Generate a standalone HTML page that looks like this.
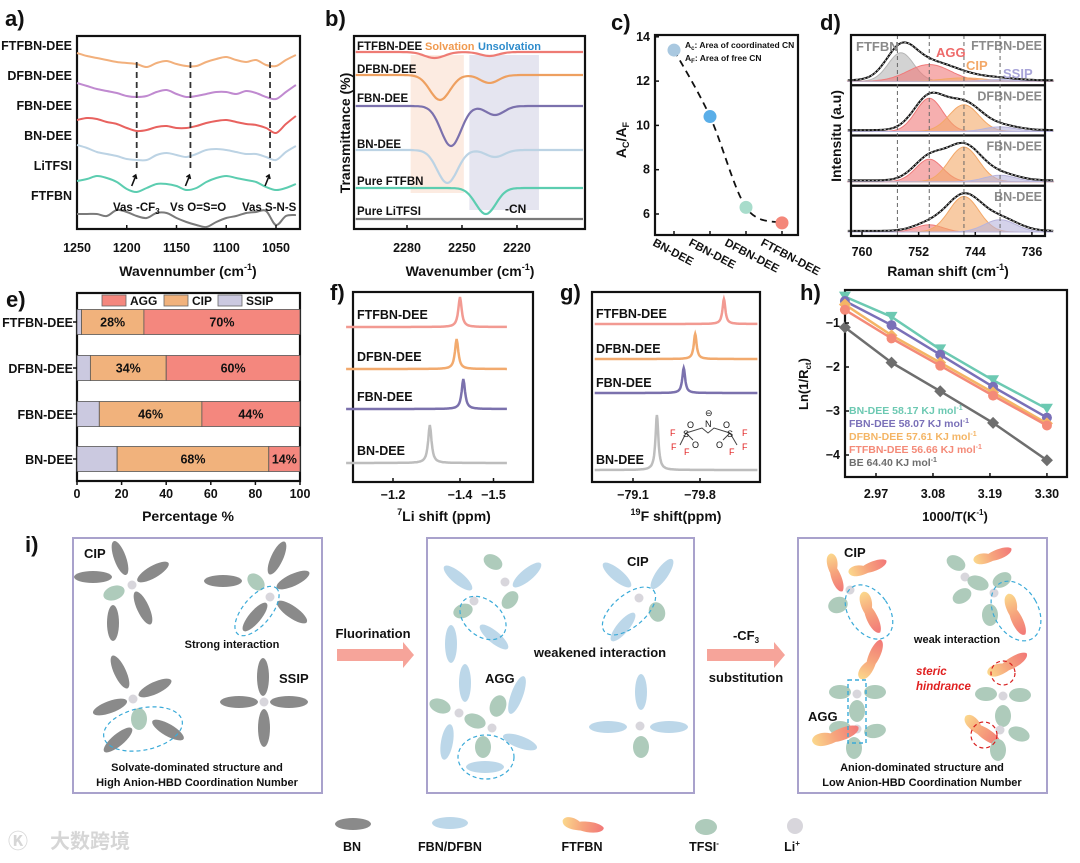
<!DOCTYPE html>
<html><head><meta charset="utf-8">
<style>
html,body{margin:0;padding:0;background:#fff;}
svg{display:block;font-family:"Liberation Sans","Noto Sans CJK SC",sans-serif;}
</style></head>
<body>
<svg id="fig" width="1080" height="863" viewBox="0 0 1080 863" xmlns="http://www.w3.org/2000/svg">
<defs>
<linearGradient id="ft" x1="0" y1="0" x2="1" y2="0"><stop offset="0" stop-color="#fbd88c"/><stop offset="0.5" stop-color="#f6a27c"/><stop offset="1" stop-color="#f27878"/></linearGradient>
</defs>
</svg>
<script>
// ---------- data ----------
const aWaven = [1250,1240,1230,1220,1210,1200,1190,1180,1170,1160,1150,1140,1130,1120,1110,1100,1090,1080,1070,1060,1050,1040,1030];
const aNames = ['FTFBN-DEE','DFBN-DEE','FBN-DEE','BN-DEE','LiTFSI','FTFBN'];
const aFtfbnDee = [176,173,171,169,167,166,165,162,166,168,165,163,163,167,170,172,169,167,169,164,163,169,174];
const aDfbnDee = [146,143,140,138,136,133,132,133,137,139,135,132,133,135,137,137,135,138,136,132,130,137,144];
const aFbnDee = [109,111,110,107,105,101,98,99,102,103,101,101,103,106,108,109,107,105,104,101,96,105,113];
const aBnDee = [84,81,77,75,73,70,69,69,74,76,74,72,75,79,80,79,77,75,75,72,69,77,83];
const aLitfsi = [48,50,53,51,47,40,37,41,45,45,43,39,41,47,51,53,51,49,47,42,39,41,45];
const aFtfbn = [15,15,15,13,19,17,13,11,16,16,11,7,4,2,7,11,13,16,17,18,4,13,14];
const aSeries = [aFtfbnDee,aDfbnDee,aFbnDee,aBnDee,aLitfsi,aFtfbn];
const aColors = ['#f2b07c','#c08ad0','#e8625f','#bcd3e4','#5ccdb0','#7a7a7a'];
const aTicks = [1250,1200,1150,1100,1050];

const bNames = ['FTFBN-DEE','DFBN-DEE','FBN-DEE','BN-DEE','Pure FTFBN','Pure LiTFSI'];
const bBase = [177,154,123,79,41,10];
const bPeak1Center = [2265,2262,2256,2258,2237,2250];
const bPeak1Depth = [6,25,40,33,26,0];
const bPeak2Center = [2235,2235,2232,2232,2210,2210];
const bPeak2Depth = [4,8,9,7,0,0];
const bColors = ['#ee7b74','#eea060','#7b71ad','#bcd3e4','#5ccdb0','#7a7a7a'];
const bTicks = [2280,2250,2220];

const cCats = ['BN-DEE','FBN-DEE','DFBN-DEE','FTFBN-DEE'];
const cValues = [13.4,10.4,6.3,5.6];
const cColors = ['#a9c8e0','#5aaee8','#a8dccb','#f4877a'];
const cTicks = [6,8,10,12,14];

const dSamples = ['FTFBN-DEE','DFBN-DEE','FBN-DEE','BN-DEE'];
const dGrayAmp = [0.85,0,0,0];
const dAggAmp = [0.5,0.72,0.52,0.2];
const dCipAmp = [0.1,0.58,0.8,0.98];
const dSsipAmp = [0.05,0.1,0.15,0.34];
const dTicks = [760,752,744,736];

const eCats = ['FTFBN-DEE','DFBN-DEE','FBN-DEE','BN-DEE'];
const eSsip = [2,6,10,18];
const eCip = [28,34,46,68];
const eAgg = [70,60,44,14];
const eTicks = [0,20,40,60,80,100];

const fNames = ['FTFBN-DEE','DFBN-DEE','FBN-DEE','BN-DEE'];
const fPeaks = [-1.40,-1.39,-1.41,-1.31];
const fColors = ['#f29a92','#f2aa6e','#7b71ad','#bdbdbd'];
const fTicks = [-1.2,-1.4,-1.5];

const gNames = ['FTFBN-DEE','DFBN-DEE','FBN-DEE','BN-DEE'];
const gPeaks = [-80.05,-79.75,-79.63,-79.35];
const gTicks = [-79.1,-79.8];

const hX = [2.91,3.0,3.094,3.196,3.30];
const hBn = [-0.4,-0.86,-1.6,-2.3,-2.95];
const hFbn = [-0.5,-1.05,-1.72,-2.45,-3.15];
const hDfbn = [-0.58,-1.28,-1.9,-2.58,-3.28];
const hFtfbn = [-0.7,-1.35,-1.97,-2.65,-3.33];
const hBe = [-1.1,-1.9,-2.55,-3.27,-4.12];
const hLabels = ['BN-DEE 58.17 KJ mol','FBN-DEE 58.07 KJ mol','DFBN-DEE 57.61 KJ mol','FTFBN-DEE 56.66 KJ mol','BE 64.40 KJ mol'];
const hColors = ['#6cc9b2','#7a70b8','#f4b565','#f48a78','#6e6e6e'];
const hTickX = [2.97,3.08,3.19,3.30];
const hTickY = [-1,-2,-3,-4];

// ---------- helpers ----------
const NS='http://www.w3.org/2000/svg';
const svg=document.getElementById('fig');
function mk(tag,attrs,parent){const e=document.createElementNS(NS,tag);for(const k in attrs)e.setAttribute(k,attrs[k]);(parent||svg).appendChild(e);return e;}
function txt(x,y,s,size,extra,parent){const e=mk('text',Object.assign({x:x,y:y,'font-size':size,'font-weight':'bold',fill:'#111'},extra||{}),parent);e.textContent=s;return e;}
function smooth(pts){let d='M'+pts[0][0].toFixed(1)+','+pts[0][1].toFixed(1);for(let i=0;i<pts.length-1;i++){const p0=pts[i-1]||pts[i],p1=pts[i],p2=pts[i+1],p3=pts[i+2]||p2;const c1x=p1[0]+(p2[0]-p0[0])/6,c1y=p1[1]+(p2[1]-p0[1])/6,c2x=p2[0]-(p3[0]-p1[0])/6,c2y=p2[1]-(p3[1]-p1[1])/6;d+=' C'+c1x.toFixed(1)+','+c1y.toFixed(1)+' '+c2x.toFixed(1)+','+c2y.toFixed(1)+' '+p2[0].toFixed(1)+','+p2[1].toFixed(1);}return d;}
function box(x,y,w,h,name){const r=mk('rect',{x:x,y:y,width:w,height:h,fill:'none',stroke:'#111','stroke-width':2.2});return r;}
function letter(x,y,s){const t=txt(x,y,s,22);}
function gauss(x,c,w){return Math.exp(-((x-c)*(x-c))/(2*w*w));}

// ---------- panel a ----------
letter(5,26,'a)');
const axL=77,axR=300,ayT=36,ayB=229;
const ax=v=>axL+(1250-v)*0.995;
const ay=v=>ayB-v;
box(axL,ayT,axR-axL,ayB-ayT,'panel-a-frame');
aSeries.forEach((s,i)=>{const p=mk('path',{d:smooth(aWaven.map((w,j)=>[ax(w),ay(s[j])])),fill:'none',stroke:aColors[i],'stroke-width':2});

});
[50,80,110,140,170,200].forEach((y,i)=>{const t=txt(72,y,aNames[i],12.5,{'text-anchor':'end'});});
[1190,1136,1056].forEach(v=>{const l=mk('line',{x1:ax(v),y1:62,x2:ax(v),y2:168,stroke:'#333','stroke-width':1.8,'stroke-dasharray':'6,4'});
const ar=mk('path',{d:`M${ax(v)-5},${186} L${ax(v)-1},${176} M${ax(v)-4},${177} L${ax(v)-1},${175} L${ax(v)},${179}`,stroke:'#111','stroke-width':1.6,fill:'none'});});
[['Vas -CF',113],['Vs O=S=O',170],['Vas S-N-S',242]].forEach((o,i)=>{const t=txt(o[1],211,o[0],11.5);if(i==0){const s=mk('tspan',{'font-size':8,dy:3});s.textContent='3';t.appendChild(s);}});
aTicks.forEach(v=>{mk('line',{x1:ax(v),y1:ayB,x2:ax(v),y2:ayB-4,stroke:'#111','stroke-width':1.5});const t=txt(ax(v),252,v,12.5,{'text-anchor':'middle'});});
{const t=txt(188,276,'Wavennumber (cm',14,{'text-anchor':'middle'});const s=mk('tspan',{'font-size':9,dy:-6},t);s.textContent='-1';const s2=mk('tspan',{dy:6},t);s2.textContent=')';}

// ---------- panel b ----------
letter(325,26,'b)');
const bL=354,bR=585,bT=36,bB=229;
const bx=v=>407+(2280-v)*1.833;
const by=v=>bB-v;
box(bL,bT,bR-bL,bB-bT,'panel-b-frame');
{const r=mk('rect',{x:bx(2278),y:55,width:bx(2249)-bx(2278),height:138,fill:'#fbe6da',opacity:0.8});
const r2=mk('rect',{x:bx(2246),y:55,width:bx(2208)-bx(2246),height:155,fill:'#e2e2ee',opacity:0.9});}
bNames.forEach((n,i)=>{const pts=[];for(let v=2308;v>=2184;v-=2){let y=bBase[i]-bPeak1Depth[i]*gauss(v,bPeak1Center[i],5.5)-bPeak2Depth[i]*gauss(v,bPeak2Center[i],5);pts.push([bx(v),by(y)]);}
const p=mk('path',{d:smooth(pts),fill:'none',stroke:bColors[i],'stroke-width':2.2});
const t=txt(357,[50,73,102,148,185,215][i],n,11.5);});
{let t=txt(425,50,'Solvation',11,{fill:'#f09a50'});
t=txt(478,50,'Unsolvation',11,{fill:'#2e8ccc'});
t=txt(505,213,'-CN',12);}
bTicks.forEach(v=>{mk('line',{x1:bx(v),y1:bB,x2:bx(v),y2:bB-4,stroke:'#111','stroke-width':1.5});const t=txt(bx(v),252,v,12.5,{'text-anchor':'middle'});});
{const t=txt(470,276,'Wavenumber (cm',14,{'text-anchor':'middle'});const s=mk('tspan',{'font-size':9,dy:-6},t);s.textContent='-1';const s2=mk('tspan',{dy:6},t);s2.textContent=')';
const y=txt(0,0,'Transmittance (%)',14,{'text-anchor':'middle',transform:'translate(350,133) rotate(-90)'});}

// ---------- panel c ----------
letter(611,30,'c)');
const cL=655,cR=798,cT=35,cB=235;
const cx=i=>674+i*36;
const cy=v=>214-(v-6)*22.15;
box(cL,cT,cR-cL,cB-cT,'panel-c-frame');
cTicks.forEach(v=>{mk('line',{x1:cL,y1:cy(v),x2:cL+4,y2:cy(v),stroke:'#111','stroke-width':1.5});const t=txt(cL-5,cy(v)+4,v,12.5,{'text-anchor':'end'});});
{const pl=mk('path',{d:smooth(cValues.map((v,i)=>[cx(i),cy(v)])),fill:'none',stroke:'#111','stroke-width':1.8,'stroke-dasharray':'7,5'});}
cValues.forEach((v,i)=>{const c=mk('circle',{cx:cx(i),cy:cy(v),r:6.5,fill:cColors[i]});
mk('line',{x1:cx(i),y1:cB,x2:cx(i),y2:cB-4,stroke:'#111','stroke-width':1.5});
const t=txt(cx(i)-22,245,cCats[i],11.5,{transform:`rotate(28 ${cx(i)-22} 245)`});});
{let t=txt(685,48,'A',8.5);let s=mk('tspan',{'font-size':6,dy:2},t);s.textContent='c';s=mk('tspan',{dy:-2},t);s.textContent=': Area of coordinated CN';
t=txt(685,61,'A',8.5);s=mk('tspan',{'font-size':6,dy:2},t);s.textContent='F';s=mk('tspan',{dy:-2},t);s.textContent=': Area of free CN';
t=txt(0,0,'A',14,{transform:'translate(626,140) rotate(-90)','text-anchor':'middle'});s=mk('tspan',{'font-size':9,dy:3},t);s.textContent='C';s=mk('tspan',{dy:-3},t);s.textContent='/A';s=mk('tspan',{'font-size':9,dy:3},t);s.textContent='F';}

// ---------- panel d ----------
letter(820,30,'d)');
const dL=851,dR=1045,dT=35,dB=236;
const dx=v=>862+(760-v)*7.08;
const rowH=(dB-dT)/4;
dSamples.forEach((n,r)=>{const top=dT+r*rowH,base=top+rowH-4,H=rowH-8;
const comps=[[dGrayAmp[r],754.5,1.8,'#b5b5b5'],[dAggAmp[r],750.5,r==0?3:1.9,'#f07a7a'],[dCipAmp[r],745.6,r==0?3:2.1,'#f3a868'],[dSsipAmp[r],740.5,2.2,'#b8b4dc']];
const envS=[];let maxS=0;for(let v=762;v>=733;v-=0.5){let s=0.03;comps.forEach(c=>{s+=c[0]*gauss(v,c[1],c[2]*1.15);});envS.push([v,s]);if(s>maxS)maxS=s;}
const k=0.92/maxS;
comps.forEach(c=>{if(c[0]<=0)return;const pts=[];for(let v=762;v>=733;v-=0.5)pts.push([dx(v),base-H*k*c[0]*gauss(v,c[1],c[2])]);
const a=mk('path',{d:smooth(pts)+` L${dx(733)},${base} L${dx(762)},${base} Z`,fill:c[3],'fill-opacity':0.6,stroke:c[3],'stroke-width':1});});
const env=envS.map(p=>[dx(p[0]),base-H*k*p[1]]);
let e=mk('path',{d:smooth(env),fill:'none',stroke:'#111','stroke-width':2});
e=mk('path',{d:smooth(env),fill:'none',stroke:'#ccc','stroke-width':0.8,'stroke-dasharray':'2,2'});
const t=txt(dR-3,top+15,n,12.5,{'text-anchor':'end',fill:'#8a8a8a'});
if(r>0){mk('line',{x1:dL,y1:top,x2:dR,y2:top,stroke:'#111','stroke-width':2.2});}
});
[755,750.5,745.6,740.5].forEach(v=>{const l=mk('line',{x1:dx(v),y1:dT,x2:dx(v),y2:dB,stroke:'#666','stroke-width':1,'stroke-dasharray':'4,3'});});
box(dL,dT,dR-dL,dB-dT,'panel-d-frame');
[['FTFBN',856,51,'#8a8a8a'],['AGG',936,57,'#ee6a6a'],['CIP',966,70,'#f3a868'],['SSIP',1003,78,'#a8a4d8']].forEach(o=>{const t=txt(o[1],o[2],o[0],13,{fill:o[3]});});
dTicks.forEach(v=>{mk('line',{x1:dx(v),y1:dB,x2:dx(v),y2:dB-4,stroke:'#111','stroke-width':1.5});const t=txt(dx(v),256,v,12.5,{'text-anchor':'middle'});});
{const t=txt(948,276,'Raman shift (cm',14,{'text-anchor':'middle'});const s=mk('tspan',{'font-size':9,dy:-6},t);s.textContent='-1';const s2=mk('tspan',{dy:6},t);s2.textContent=')';
const y=txt(0,0,'Intensitu (a.u)',14,{'text-anchor':'middle',transform:'translate(841,136) rotate(-90)'});}

// ---------- panel e ----------
letter(6,307,'e)');
const eL=77,eR=300,eT=293,eB=481;
const ex=v=>eL+v*(eR-eL)/100;
const eY=[322,368,414,459];
box(eL,eT,eR-eL,eB-eT,'panel-e-frame');
eCats.forEach((c,i)=>{const y=eY[i]-12.5;let x0=0;
[[eSsip[i],'#cbc9e0','ssip'],[eCip[i],'#f1b27c','cip'],[eAgg[i],'#f4877e','agg']].forEach(p=>{const r=mk('rect',{x:ex(x0),y:y,width:ex(x0+p[0])-ex(x0),height:25,fill:p[1],stroke:'#555','stroke-width':0.8});
if(p[2]!='ssip'){const t=txt((ex(x0)+ex(x0+p[0]))/2,y+17,p[0]+'%',12.5,{'text-anchor':'middle'});}
x0+=p[0];});
mk('line',{x1:eL-4,y1:eY[i],x2:eL,y2:eY[i],stroke:'#111','stroke-width':1.5});
const t=txt(eL-4,eY[i]+5,c,12.5,{'text-anchor':'end'});});
[['AGG','#f4877e',102],['CIP','#f1b27c',164],['SSIP','#cbc9e0',218]].forEach(o=>{const r=mk('rect',{x:o[2],y:295,width:24,height:11,fill:o[1],stroke:'#666','stroke-width':0.8});const t=txt(o[2]+28,305,o[0],12);});
eTicks.forEach(v=>{mk('line',{x1:ex(v),y1:eB,x2:ex(v),y2:eB+4,stroke:'#111','stroke-width':1.5});const t=txt(ex(v),498,v,12.5,{'text-anchor':'middle'});});
{const t=txt(188,521,'Percentage %',14,{'text-anchor':'middle'});}

// ---------- panel f ----------
letter(330,300,'f)');
const fL=353,fR=533,fT=292,fB=482;
const fx=v=>393+(-1.2-v)*335;
const fBase=[327,369,409,463];
box(fL,fT,fR-fL,fB-fT,'panel-f-frame');
fNames.forEach((n,i)=>{const pts=[];for(let v=-1.06;v>=-1.54;v-=0.0025){const d=(v-fPeaks[i])/0.006;pts.push([fx(v),fBase[i]-(i==3?38:30)/(1+d*d)]);}
const p=mk('path',{d:'M'+pts.map(p=>p[0].toFixed(1)+','+p[1].toFixed(1)).join(' L'),fill:'none',stroke:fColors[i],'stroke-width':2.5});
const t=txt(357,fBase[i]-8,n,12.5);});
fTicks.forEach(v=>{mk('line',{x1:fx(v),y1:fB,x2:fx(v),y2:fB-4,stroke:'#111','stroke-width':1.5});const t=txt(fx(v),499,v.toFixed(1).replace('-','−'),12.5,{'text-anchor':'middle'});});
{const t=txt(444,521,'',14,{'text-anchor':'middle'});const s=mk('tspan',{'font-size':9,dy:-6},t);s.textContent='7';const s2=mk('tspan',{dy:6},t);s2.textContent='Li shift (ppm)';}

// ---------- panel g ----------
letter(560,300,'g)');
const gL=592,gR=760,gT=292,gB=482;
const gx=v=>633+(-79.1-v)*95.7;
const gBase=[324,359,393,470];
box(gL,gT,gR-gL,gB-gT,'panel-g-frame');
gNames.forEach((n,i)=>{const pts=[];for(let v=-78.7;v>=-80.4;v-=0.005){const d=(v-gPeaks[i])/0.018;pts.push([gx(v),gBase[i]-(i==3?55:25)/(1+d*d)]);}
const p=mk('path',{d:'M'+pts.map(p=>p[0].toFixed(1)+','+p[1].toFixed(1)).join(' L'),fill:'none',stroke:fColors[i],'stroke-width':2.5});
const t=txt(596,gBase[i]-6,n,12.5);});
gTicks.forEach(v=>{mk('line',{x1:gx(v),y1:gB,x2:gx(v),y2:gB-4,stroke:'#111','stroke-width':1.5});const t=txt(gx(v),499,v.toFixed(1).replace('-','−'),12.5,{'text-anchor':'middle'});});
{const t=txt(676,521,'',14,{'text-anchor':'middle'});const s=mk('tspan',{'font-size':9,dy:-6},t);s.textContent='19';const s2=mk('tspan',{dy:6},t);s2.textContent='F shift(ppm)';}
{const g=mk('g',{'font-size':9,'font-weight':'normal'});
mk('path',{d:'M686,433 L702,428 L708,433 L714,428 L730,433 M686,433 L680,445 M730,433 L737,445 M686,433 L693,440 M730,433 L723,440',stroke:'#444','stroke-width':1,fill:'none'},g);
[['S',683,437,'#111'],['N',705,427,'#111'],['S',727,437,'#111'],['O',687,428,'#111'],['O',723,428,'#111'],['O',692,448,'#111'],['O',716,448,'#111'],['F',670,436,'#e02020'],['F',671,450,'#e02020'],['F',684,455,'#e02020'],['F',742,436,'#e02020'],['F',742,450,'#e02020'],['F',729,455,'#e02020'],['⊖',705,416,'#111']].forEach(o=>{const t=mk('text',{x:o[1],y:o[2],fill:o[3],'font-size':9,'font-family':'Liberation Sans, sans-serif'},g);t.textContent=o[0];});}

// ---------- panel h ----------
letter(800,300,'h)');
const hL=845,hR=1067,hT=290,hB=477;
const hx=v=>876+(v-2.97)*518;
const hy=v=>323-(v+1)*44;
box(hL,hT,hR-hL,hB-hT,'panel-h-frame');
const hSeries=[hBn,hFbn,hDfbn,hFtfbn,hBe];
const hMark=['tri','circle','diamond','hex','diamond'];
hSeries.forEach((s,i)=>{const l=mk('polyline',{points:s.map((v,j)=>hx(hX[j])+','+hy(v)).join(' '),fill:'none',stroke:hColors[i],'stroke-width':2.5});
s.forEach((v,j)=>{const X=hx(hX[j]),Y=hy(v);let m;
if(hMark[i]=='tri')m=mk('path',{d:`M${X-6},${Y-5} L${X+6},${Y-5} L${X},${Y+5} Z`,fill:hColors[i]});
else if(hMark[i]=='circle')m=mk('circle',{cx:X,cy:Y,r:5,fill:hColors[i]});
else if(hMark[i]=='diamond')m=mk('path',{d:`M${X},${Y-6} L${X+6},${Y} L${X},${Y+6} L${X-6},${Y} Z`,fill:hColors[i]});
else m=mk('circle',{cx:X,cy:Y,r:5,fill:hColors[i]});

});});
hLabels.forEach((s,i)=>{const t=txt(849,414+i*13,s,10.5,{fill:hColors[i]});const sp=mk('tspan',{'font-size':7,dy:-4},t);sp.textContent='-1';});
hTickX.forEach(v=>{mk('line',{x1:hx(v),y1:hB,x2:hx(v),y2:hB-4,stroke:'#111','stroke-width':1.5});const t=txt(hx(v),498,v.toFixed(2),12.5,{'text-anchor':'middle'});});
hTickY.forEach(v=>{mk('line',{x1:hL,y1:hy(v),x2:hL+4,y2:hy(v),stroke:'#111','stroke-width':1.5});const t=txt(hL-5,hy(v)+4,String(v).replace('-','−'),12.5,{'text-anchor':'end'});});
{const t=txt(955,521,'1000/T(K',13,{'text-anchor':'middle'});let s=mk('tspan',{'font-size':8,dy:-6},t);s.textContent='-1';s=mk('tspan',{dy:6},t);s.textContent=')';
const y=txt(0,0,'Ln(1/R',13,{'text-anchor':'middle',transform:'translate(808,384) rotate(-90)'});s=mk('tspan',{'font-size':8,dy:3},y);s.textContent='ct';s=mk('tspan',{dy:-3},y);s.textContent=')';}

// ---------- panel i ----------
letter(25,552,'i)');
const GR='#8a8a8a',LB='#bcd7e9',GN='#aecbbb',LI='#d8d6dc';
function E(cx,cy,rx,ry,ang,fill,name){const e=mk('ellipse',{cx:cx,cy:cy,rx:rx,ry:ry,fill:fill,transform:`rotate(${ang} ${cx} ${cy})`});return e;}
function D(cx,cy,rx,ry,ang,col){const e=mk('ellipse',{cx:cx,cy:cy,rx:rx,ry:ry,fill:'none',stroke:col||'#3aaad8','stroke-width':1.2,'stroke-dasharray':'4,3',transform:`rotate(${ang} ${cx} ${cy})`});}
function Li(x,y){const c=mk('circle',{cx:x,cy:y,r:4.5,fill:LI});}
function FT(cx,cy,ang,s){const g=mk('g',{transform:`translate(${cx} ${cy}) rotate(${ang}) scale(${s||1})`});mk('path',{d:'M-22,-3 C-20,-9 -10,-8 -4,-4 C4,-6 18,-6 22,-1 C22,5 8,7 -2,5 C-12,6 -22,4 -22,-3 Z',fill:'url(#ft)'},g);}
[[73,322],[427,694],[798,1047]].forEach((b,i)=>{const r=mk('rect',{x:b[0],y:538,width:b[1]-b[0],height:255,fill:'none',stroke:'#a9a2cc','stroke-width':2});});
// box1
Li(132,585);E(93,577,19,6,0,GR,'bn-molecule');E(120,558,18,6,70,GR,'bn-molecule');E(153,572,18,6,-30,GR,'bn-molecule');E(143,608,18,6,65,GR,'bn-molecule');E(113,623,18,6,90,GR,'bn-molecule');E(114,593,11,7,-20,GN,'tfsi-anion');
Li(270,597);E(223,581,19,6,0,GR,'bn-molecule');E(277,558,18,6,-65,GR,'bn-molecule');E(293,580,18,6,-25,GR,'bn-molecule');E(255,617,18,6,-50,GR,'bn-molecule');E(292,612,18,6,35,GR,'bn-molecule');E(256,582,10,7,45,GN,'tfsi-anion');D(257,611,30,14,-50);
Li(133,699);E(120,672,18,6,65,GR,'bn-molecule');E(155,688,18,6,-25,GR,'bn-molecule');E(110,707,18,6,-20,GR,'bn-molecule');E(118,740,18,6,-40,GR,'bn-molecule');E(168,730,18,6,30,GR,'bn-molecule');E(139,719,8,11,0,GN,'tfsi-anion');D(143,729,40,21,-12);
Li(264,702);E(263,677,6,19,0,GR,'bn-molecule');E(264,728,6,19,0,GR,'bn-molecule');E(239,702,19,6,0,GR,'bn-molecule');E(289,702,19,6,0,GR,'bn-molecule');
// box2
Li(505,582);Li(474,601);E(458,578,18,6,40,LB,'fbn-molecule');E(493,562,10,7,30,GN,'tfsi-anion');E(510,600,10,7,-50,GN,'tfsi-anion');E(527,575,18,6,-40,LB,'fbn-molecule');E(463,611,10,7,-20,GN,'tfsi-anion');E(494,637,18,6,40,LB,'fbn-molecule');E(451,644,6,19,0,LB,'fbn-molecule');D(483,618,26,18,40);
Li(639,598);E(617,575,18,6,40,LB,'fbn-molecule');E(662,574,18,6,-55,LB,'fbn-molecule');E(623,627,18,6,-50,LB,'fbn-molecule');E(657,612,8,10,-20,GN,'tfsi-anion');D(629,611,32,16,-40);
Li(459,713);Li(492,728);E(440,706,11,7,20,GN,'tfsi-anion');E(465,683,6,19,0,LB,'fbn-molecule');E(475,721,11,7,20,GN,'tfsi-anion');E(498,706,8,11,20,GN,'tfsi-anion');E(517,695,6,20,20,LB,'fbn-molecule');E(447,742,6,18,10,LB,'fbn-molecule');E(483,747,8,11,0,GN,'tfsi-anion');E(485,767,19,6,0,LB,'fbn-molecule');E(520,742,18,6,20,LB,'fbn-molecule');D(486,757,28,22,0);
Li(640,726);E(641,692,6,18,0,LB,'fbn-molecule');E(608,727,19,6,0,LB,'fbn-molecule');E(669,727,19,6,0,LB,'fbn-molecule');E(641,747,8,11,0,GN,'tfsi-anion');
// box3
Li(850,590);FT(835,573,70,0.9);FT(868,568,-20,0.9);FT(870,613,65,1);E(838,605,10,8,-20,GN,'tfsi-anion');D(869,612,20,30,-35);
Li(965,577);Li(994,593);E(956,563,10,7,30,GN,'tfsi-anion');E(962,596,10,7,-30,GN,'tfsi-anion');E(978,583,11,7,20,GN,'tfsi-anion');E(1002,580,10,7,-30,GN,'tfsi-anion');E(990,615,8,11,0,GN,'tfsi-anion');FT(993,556,-20,0.9);FT(1015,615,65,1);D(1016,611,22,32,-30);
Li(857,694);Li(857,729);E(840,692,11,7,0,GN,'tfsi-anion');E(875,692,11,7,0,GN,'tfsi-anion');E(857,711,8,11,0,GN,'tfsi-anion');E(840,728,11,7,0,GN,'tfsi-anion');E(875,731,11,7,-10,GN,'tfsi-anion');E(854,748,8,11,0,GN,'tfsi-anion');FT(872,660,-65,1);FT(836,736,-20,1.1);
{const r=mk('rect',{x:848,y:680,width:18,height:63,fill:'none',stroke:'#3aaad8','stroke-width':1.4,'stroke-dasharray':'4,3'});}
FT(1008,665,-30,1);Li(1003,696);E(986,694,11,7,0,GN,'tfsi-anion');E(1020,695,11,7,0,GN,'tfsi-anion');E(1003,716,8,11,0,GN,'tfsi-anion');Li(1000,730);FT(982,731,35,1);E(1019,734,11,7,20,GN,'tfsi-anion');E(998,750,8,11,0,GN,'tfsi-anion');
{const c1=mk('circle',{cx:1003,cy:673,r:12,fill:'none',stroke:'#d82020','stroke-width':1.2,'stroke-dasharray':'4,3'});
const c2=mk('circle',{cx:984,cy:735,r:13,fill:'none',stroke:'#d82020','stroke-width':1.2,'stroke-dasharray':'4,3'});}
// arrows
[[337,414],[707,785]].forEach((a,i)=>{const p=mk('path',{d:`M${a[0]},${649} L${a[1]-11},${649} L${a[1]-11},${642} L${a[1]},${655} L${a[1]-11},${668} L${a[1]-11},${661} L${a[0]},${661} Z`,fill:'#f6a49a'});});
[['CIP',84,558,'start'],['Strong interaction',232,648,'middle'],['SSIP',279,683,'start'],['Solvate-dominated structure and',197,771,'middle'],['High Anion-HBD Coordination Number',197,786,'middle'],['Fluorination',373,638,'middle'],
 ['CIP',627,566,'start'],['weakened interaction',600,657,'middle'],['AGG',485,683,'start'],['substitution',746,682,'middle'],
 ['CIP',844,557,'start'],['weak interaction',957,643,'middle'],['AGG',808,721,'start'],['Anion-dominated structure and',922,771,'middle'],['Low Anion-HBD Coordination Number',922,786,'middle']].forEach(o=>{const big=['Fluorination','substitution','CIP','AGG','SSIP','weakened interaction'].includes(o[0]);const t=txt(o[1],o[2],o[0],big?13:11,{'text-anchor':o[3]});});
{const t=txt(746,640,'-CF',13,{'text-anchor':'middle'});const s=mk('tspan',{'font-size':8,dy:3},t);s.textContent='3';
let t2=txt(916,675,'steric',11.5,{fill:'#e02020','font-style':'italic'});
t2=txt(916,690,'hindrance',11.5,{fill:'#e02020','font-style':'italic'});}
// legend
E(353,824,18,6,0,GR,'legend-bn-shape');E(450,823,18,6,0,LB,'legend-fbn-shape');FT(583,826,8,0.95);E(706,827,11,8,0,GN,'legend-tfsi-shape');{const c=mk('circle',{cx:795,cy:826,r:8,fill:LI});}
[['BN',352],['FBN/DFBN',450],['FTFBN',582],['TFSI',704],['Li',792]].forEach((o,i)=>{const t=txt(o[1],851,o[0],12.5,{'text-anchor':'middle'});if(i>=3){const s=mk('tspan',{'font-size':8,dy:-5},t);s.textContent=i==3?'-':'+';}});
{const t=txt(50,848,'大数跨境',20,{fill:'#d6d6d6'});const t2=txt(8,848,'Ⓚ',20,{fill:'#d6d6d6'});}
</script>
</body></html>
